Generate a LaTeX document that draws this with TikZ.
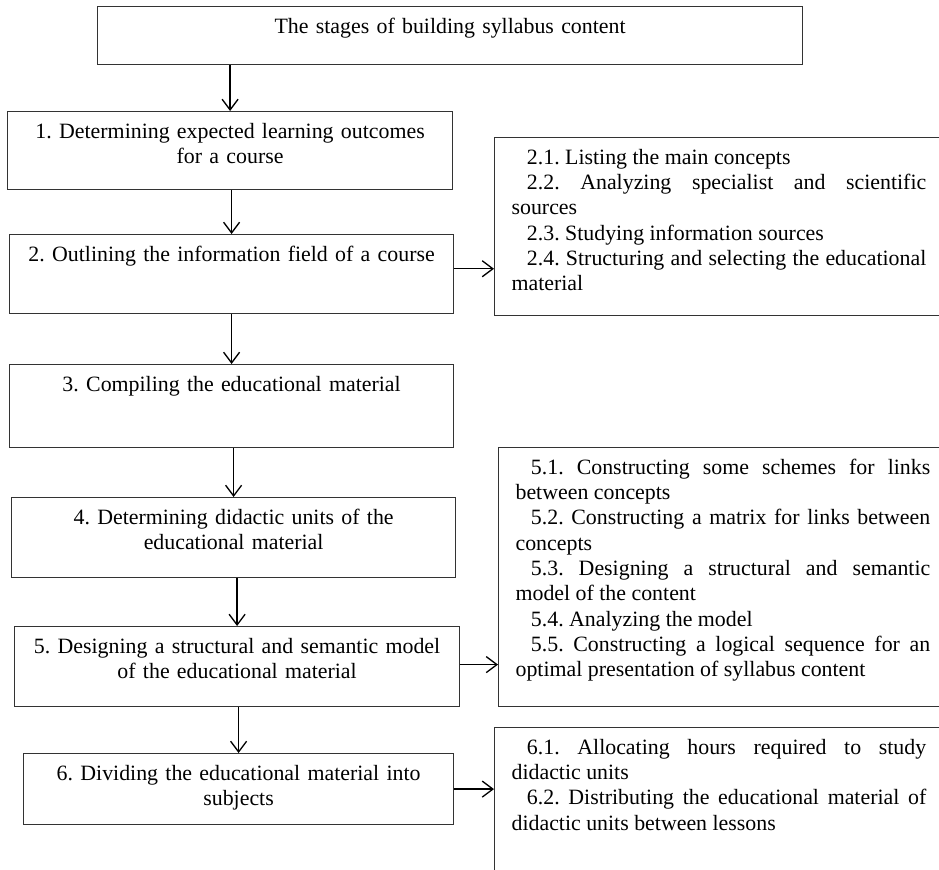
\documentclass[tikz,border=0pt]{standalone}
\usepackage{fontspec}
\setmainfont{Liberation Serif}
\usetikzlibrary{arrows.meta,positioning}
\frenchspacing

\begin{document}
\begin{tikzpicture}[
  x=0.75pt, y=-0.75pt,
  stage/.style={rectangle, draw=black!80, line width=0.9pt, anchor=north west, inner sep=0pt, align=center, text height=20pt, text depth=#1, font=\fontsize{16.4}{19}\selectfont},
  substage/.style={stage=#1, align=justify, inner xsep=12.75pt, text width=311pt},
  flow/.style={->, line width=1pt},
  >={Straight Barb[length=8pt,width=12pt]}
]
  \useasboundingbox (0,0) rectangle (939,870);
  \clip (0,0) rectangle (939,870);
  % Main stages
  \node[stage=23.5pt, text width=528.75pt] (top) at (97,6) {The stages of building syllabus content};
  \node[stage=38.5pt, text width=333.75pt] (b1) at (7,111) {1. Determining expected learning outcomes\\ for a course};
  \node[stage=39.25pt, text width=333pt] (b2) at (9,234) {2. Outlining the information field of a course};
  \node[stage=42.25pt, text width=333pt] (b3) at (9,364) {3. Compiling the educational material};
  \node[stage=40pt, text width=333pt] (b4) at (11,497) {4. Determining didactic units of the\\ educational material};
  \node[stage=40pt, text width=333.75pt] (b5) at (14,626) {5. Designing a structural and semantic model\\ of the educational material};
  \node[stage=33.25pt, text width=322.5pt] (b6) at (23,753) {6. Dividing the educational material into\\ subjects};
  % Sub-stages
  \node[substage=113.5pt] (r2) at (494,137) {%
    \hspace*{11.5pt}2.1. Listing the main concepts\par
    \hspace*{11.5pt}2.2. Analyzing specialist and scientific\linebreak sources\par
    \hspace*{11.5pt}2.3. Studying information sources\par
    \hspace*{11.5pt}2.4. Structuring and selecting the educational\linebreak material};
  \node[substage=174.25pt] (r5) at (498,447) {%
    \hspace*{11.5pt}5.1. Constructing some schemes for links\linebreak between concepts\par
    \hspace*{11.5pt}5.2. Constructing a matrix for links between\linebreak concepts\par
    \hspace*{11.5pt}5.3. Designing a structural and semantic\linebreak model of the content\par
    \hspace*{11.5pt}5.4. Analyzing the model\par
    \hspace*{11.5pt}5.5. Constructing a logical sequence for an\linebreak optimal presentation of syllabus content};
  \node[substage=102.25pt] (r6) at (494,727) {%
    \hspace*{11.5pt}6.1. Allocating hours required to study\linebreak didactic units\par
    \hspace*{11.5pt}6.2. Distributing the educational material of\linebreak didactic units between lessons};
  % Arrows
  \draw[flow] (top.south -| b1.north) -- (b1.north);
  \draw[flow] (b1.south -| b2.north) -- (b2.north);
  \draw[flow] (b2.south -| b3.north) -- (b3.north);
  \draw[flow] (b3.south -| b4.north) -- (b4.north);
  \draw[flow] (b4.south -| b5.north) -- (b5.north);
  \draw[flow] (b5.south -| b6.north) -- (b6.north);
  \draw[flow] ([yshift=4pt]b2.east) -- ([yshift=4pt]b2.east -| r2.west);
  \draw[flow] ([yshift=1.5pt]b5.east) -- ([yshift=1.5pt]b5.east -| r5.west);
  \draw[flow] (b6.east) -- (b6.east -| r6.west);
\end{tikzpicture}
\end{document}
